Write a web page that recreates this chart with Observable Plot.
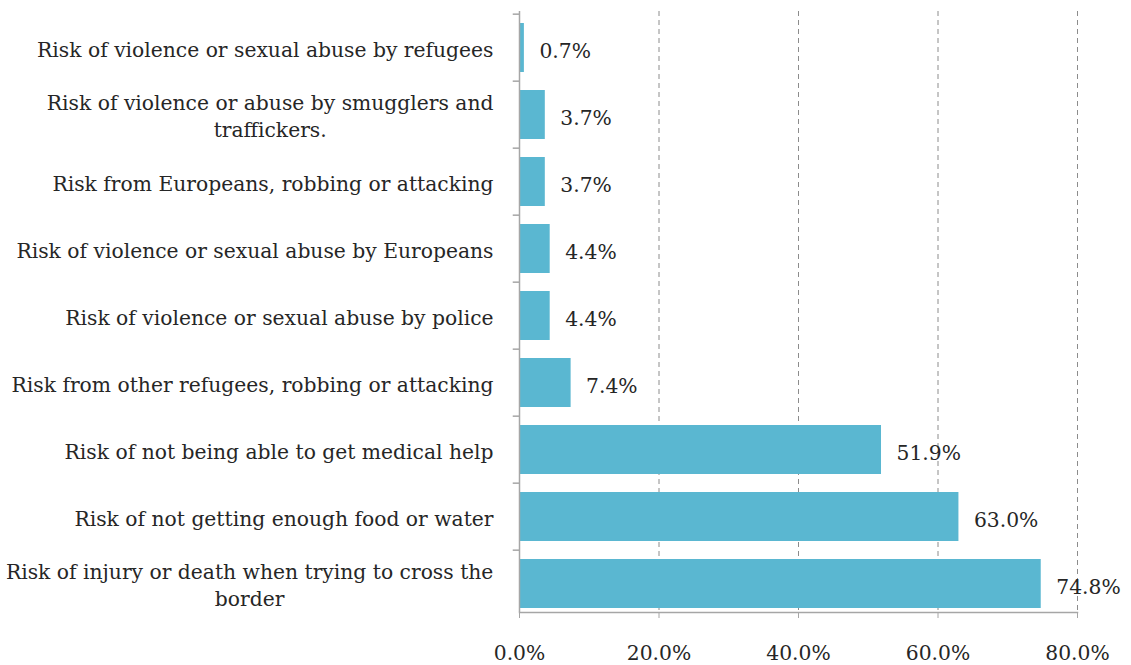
<!DOCTYPE html>
<html>
<head>
<meta charset="utf-8">
<script src="https://cdn.jsdelivr.net/npm/d3@7"></script>
<script src="https://cdn.jsdelivr.net/npm/@observablehq/plot@0.6"></script>
<style>
  html, body { margin: 0; padding: 0; background: #fff; }
</style>
</head>
<body>
<div id="chart"></div>
<script>
const categories = [
  "Risk of violence or sexual abuse by refugees",
  "Risk of violence or abuse by smugglers and traffickers.",
  "Risk from Europeans, robbing or attacking",
  "Risk of violence or sexual abuse by Europeans",
  "Risk of violence or sexual abuse by police",
  "Risk from other refugees, robbing or attacking",
  "Risk of not being able to get medical help",
  "Risk of not getting enough food or water",
  "Risk of injury or death when trying to cross the border"
];
const tickLabels = [
  "Risk of violence or sexual abuse by refugees",
  "Risk of violence or abuse by smugglers and\ntraffickers.",
  "Risk from Europeans, robbing or attacking",
  "Risk of violence or sexual abuse by Europeans",
  "Risk of violence or sexual abuse by police",
  "Risk from other refugees, robbing or attacking",
  "Risk of not being able to get medical help",
  "Risk of not getting enough food or water",
  "Risk of injury or death when trying to cross the\nborder"
];
const values = [0.7, 3.7, 3.7, 4.4, 4.4, 7.4, 51.9, 63.0, 74.8];
const xTicks = [0, 20, 40, 60, 80];

const data = categories.map((c, i) => ({category: c, label: tickLabels[i], value: values[i]}));
const labelOf = new Map(data.map(d => [d.category, d.label]));

const yRange = [11, 620];
const step = (yRange[1] - yRange[0]) / categories.length;
const axisColor = "#a6a6a6";
const fs = 20.3;

const chart = Plot.plot({
  width: 1131,
  height: 665,
  marginLeft: 519,
  marginRight: 54,
  marginTop: 11,
  marginBottom: 53,
  style: {fontFamily: "'DejaVu Serif', serif", fontSize: fs + "px", color: "#262626", background: "#fff", overflow: "visible"},
  x: {domain: [0, 80], label: null},
  y: {domain: categories, range: yRange, paddingInner: 0.27, paddingOuter: 0.135, label: null},
  marks: [
    Plot.gridX(xTicks.slice(1), {stroke: "#8c8c8c", strokeOpacity: 1, strokeDasharray: "5,4"}),
    Plot.barX(data, {x: "value", y: "category", fill: "#5ab7d1"}),
    Plot.ruleX([0], {stroke: axisColor, strokeWidth: 1.5}),
    Plot.frame({anchor: "bottom", stroke: axisColor, strokeWidth: 1.5}),
    Plot.ruleY(categories, {y: d => d, x1: 0, x2: -0.9, dy: -step / 2, stroke: axisColor, strokeWidth: 1.5}),
    Plot.axisX(xTicks, {tickSize: 6, tickPadding: 27, stroke: axisColor, fontSize: fs, tickFormat: d => d.toFixed(1) + "%", label: null}),
    Plot.axisY({tickSize: 0, tickPadding: 26, fontSize: fs, tickFormat: c => labelOf.get(c), lineHeight: 1.35, label: null}),
    Plot.text(data, {x: "value", y: "category", text: d => d.value.toFixed(1) + "%", textAnchor: "start", dx: 15, dy: 3, fontSize: fs})
  ]
});
document.getElementById("chart").appendChild(chart);

// center multi-line category labels, as in the original
d3.select(chart).selectAll("text").each(function() {
  const tspans = this.querySelectorAll("tspan");
  if (tspans.length > 1) {
    const w = this.getBBox().width;
    this.setAttribute("text-anchor", "middle");
    tspans.forEach(t => t.setAttribute("x", -w / 2));
  }
});
</script>
</body>
</html>
